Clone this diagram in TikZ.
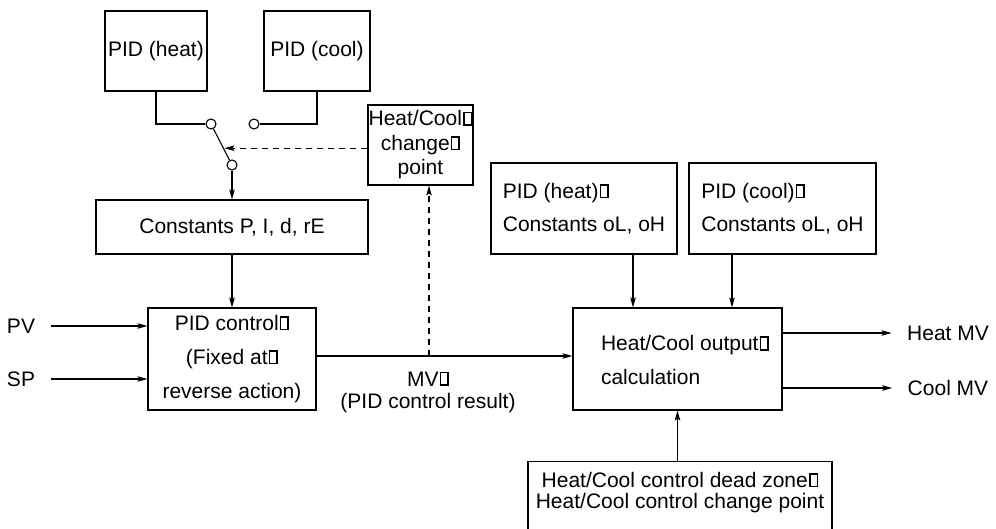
\documentclass[tikz,border=0pt]{standalone}
\usepackage{fontspec}
\setmainfont{Liberation Sans}
\usetikzlibrary{arrows.meta,calc}
% 行尾的方框字符
\newcommand\lbox{\kern1pt\vbox{\hrule height1.7pt\hbox{\vrule width1.7pt\vbox to 11pt{\vfil}\kern6pt\vrule width1.7pt}\hrule height1.7pt}}

\begin{document}
\begin{tikzpicture}[x=1pt, y=-1pt, line width=1.1pt,
    >={Stealth[length=10pt,width=5.5pt,inset=2pt]},
    box/.style={draw, rectangle, inner sep=0pt, align=center, font=\fontsize{21}{34}\selectfont},
    sig/.style={inner xsep=15pt, font=\fontsize{21}{22}\selectfont},
    sw/.style={draw, circle, fill=white, minimum size=10pt, inner sep=0pt},
    dsh/.style={dash pattern=on 6pt off 5pt}]
    \useasboundingbox (0,0) rectangle (996,529);
    \clip (0,0) rectangle (996,529);

    % 上方两个 PID 框
    \node[box, minimum width=102pt, minimum height=80pt] (heat) at (156,51) {PID (heat)};
    \node[box, minimum width=106pt, minimum height=80pt] (cool) at (317,51) {PID (cool)};

    % 切换开关
    \node[sw] (s1) at (211,124) {};
    \node[sw] (s2) at (254,124) {};
    \node[sw] (s3) at (232,165) {};
    \draw (heat.south) |- (s1.west);
    \draw (cool.south) |- (s2.east);
    \draw (s1) -- (s3);

    % 切换点
    \node[box, minimum width=105pt, minimum height=80pt, font=\fontsize{21}{24.5}\selectfont] (chg) at (420.5,145) {Heat/Cool\lbox\\change\lbox\\point};
    \coordinate (bl) at ($(s1)!0.59!(s3)$);
    \draw[dsh, ->, shorten >=1pt] (chg.west |- bl) -- (bl);

    % 常数 P, I, d, rE
    \node[box, minimum width=272pt, minimum height=54pt] (const) at (232,227) {Constants P, I, d, rE};
    \draw[->] (s3) -- (const);

    % PID 控制
    \node[box, minimum width=168pt, minimum height=102pt] (pidc) at (232,359) {PID control\lbox\\(Fixed at\lbox\\reverse action)};
    \draw[->] (const) -- (pidc);
    \node[sig] (pv) at (21,326) {PV};
    \node[sig] (sp) at (21,379) {SP};
    \draw[->] (pv.east) -- (pv.east -| pidc.west);
    \draw[->] (sp.east) -- (sp.east -| pidc.west);

    % 输出计算
    \node[box, minimum width=209pt, minimum height=102pt] (hout) at (677.5,359) {};
    \node[font=\fontsize{21}{34}\selectfont, align=left] (houtt) at (685,360) {Heat/Cool output\lbox\\calculation};
    \coordinate (mv) at (429,356);
    \draw[->] (pidc.east |- mv) -- (hout.west |- mv);
    \draw[dsh, ->] (mv) -- (mv |- chg.south);
    \node[font=\fontsize{21}{22}\selectfont, align=center] (mvl) at (428,392) {MV\lbox\\(PID control result)};

    % 输出限幅
    \node[box, minimum width=186pt, minimum height=91pt, align=left, font=\fontsize{21}{33}\selectfont] (hlim) at (584,208.5) {PID (heat)\lbox\\Constants oL, oH};
    \node[box, minimum width=187pt, minimum height=91pt, align=left, font=\fontsize{21}{33}\selectfont] (clim) at (782.5,208.5) {PID (cool)\lbox\\Constants oL, oH};
    \draw[->] ([xshift=49pt]hlim.south) -- ([xshift=49pt]hlim.south |- hout.north);
    \draw[->] ([xshift=-50.5pt]clim.south) -- ([xshift=-50.5pt]clim.south |- hout.north);

    % 输出信号
    \node[sig] (hmv) at (948,333) {Heat MV};
    \node[sig] (cmv) at (948,388) {Cool MV};
    \draw[->] (hout.east |- hmv) -- (hmv.west);
    \draw[->] (hout.east |- cmv) -- (cmv.west);

    % 死区与切换点
    \node[draw, minimum width=304pt, minimum height=90pt, anchor=north] (dzbox) at (680,461) {};
    \node[font=\fontsize{21}{21}\selectfont, align=center] (dz) at (680,492.5) {Heat/Cool control dead zone\lbox\\Heat/Cool control change point};
    \draw[->] (hout.south |- dzbox.north) -- (hout.south);
\end{tikzpicture}
\end{document}
